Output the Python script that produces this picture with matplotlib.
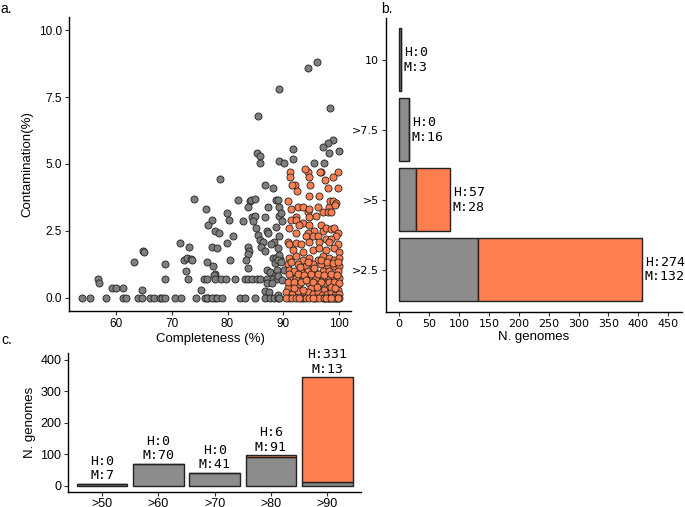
"""
Genome quality overview: contamination vs completeness scatter (a),
counts per contamination bin (b) and per completeness bin (c).
"""

import numpy as np
import matplotlib
matplotlib.use("Agg")
import matplotlib.pyplot as plt

plt.rcParams["font.family"] = ["Liberation Sans", "DejaVu Sans"]

GREY  = "#8c8c8c"
DOT   = "#7f7f7f"
CORAL = "#ff7f50"
EDGE  = "#222222"

# ──────────────────────────────────────────────────────────────────────────────
# Data
# ──────────────────────────────────────────────────────────────────────────────

# panel a: (completeness %, contamination %)
medium_points = [
    (94.4, 8.6), (96.0, 8.8), (89.3, 7.8), (98.4, 7.1), (85.5, 6.8),
    (98.9, 5.9), (98.0, 5.8), (97.1, 5.65), (91.8, 5.55), (91.8, 5.2),
    (85.3, 5.4), (85.9, 5.3), (85.8, 5.05), (89.2, 5.1), (90.1, 5.05),
    (95.5, 5.05), (97.4, 5.05), (98.3, 5.4), (100.0, 5.5), (78.7, 4.45),
    (73.9, 3.7), (76.2, 3.3), (77.2, 2.9), (76.5, 2.7), (77.7, 2.5),
    (71.4, 2.05), (73.0, 1.9), (77.3, 1.9), (64.8, 1.75), (64.9, 1.7),
    (63.1, 1.35), (68.8, 1.25), (72.1, 1.4), (72.8, 1.5), (73.5, 1.45),
    (73.7, 1.4), (76.3, 1.35), (77.4, 1.2), (72.6, 1.0), (77.7, 0.9),
    (56.8, 0.7), (56.9, 0.55), (68.8, 0.7), (72.9, 0.7), (75.7, 0.7),
    (59.2, 0.35), (60.0, 0.35), (61.3, 0.35), (64.6, 0.3), (75.2, 0.3),
    (53.8, 0.0), (55.2, 0.0), (58.1, 0.0), (61.3, 0.0), (61.8, 0.0),
    (63.9, 0.0), (64.7, 0.0), (66.1, 0.0), (66.7, 0.0), (67.8, 0.0),
    (68.2, 0.0), (68.8, 0.0), (70.5, 0.0), (71.7, 0.0), (74.4, 0.0),
    (76.0, 0.0), (76.5, 0.0), (77.7, 0.0),
    (86.7, 4.2), (88.1, 4.1), (81.9, 3.65), (84.0, 3.6), (84.3, 3.65),
    (85.0, 3.7), (88.7, 3.65), (83.7, 3.4), (87.3, 3.4), (79.9, 3.15),
    (80.2, 2.9), (82.8, 2.85), (84.4, 3.0), (85.0, 3.05), (84.6, 2.85),
    (86.7, 3.0), (88.8, 2.65), (89.2, 3.05), (85.2, 2.6), (87.1, 2.5),
    (87.3, 2.4), (78.4, 2.4), (80.9, 2.3), (85.4, 2.35), (85.8, 2.15),
    (86.3, 2.1), (88.3, 2.1), (87.9, 2.0), (79.9, 2.05), (78.1, 1.85),
    (83.7, 1.9), (83.8, 1.75), (83.7, 1.65), (86.0, 1.9), (86.8, 1.75),
    (88.1, 1.5), (88.8, 1.5), (88.5, 1.3), (89.4, 1.45), (80.5, 1.4),
    (83.4, 1.4), (83.7, 1.1), (87.1, 1.05), (87.6, 0.95), (88.9, 1.05),
    (88.6, 0.8), (77.5, 0.85),
    (76.3, 0.7), (77.8, 0.7), (78.9, 0.7), (79.8, 0.7), (81.4, 0.7),
    (83.1, 0.7), (83.7, 0.7), (84.4, 0.7), (85.3, 0.7), (85.9, 0.7),
    (87.1, 0.7), (88.1, 0.7), (88.9, 0.7),
    (87.1, 0.55), (88.0, 0.55), (86.8, 0.25), (87.4, 0.2),
    (76.3, 0.0), (77.2, 0.0), (78.1, 0.0), (79.0, 0.0), (82.3, 0.0),
    (83.2, 0.0), (85.0, 0.0), (86.8, 0.0), (87.6, 0.0), (88.3, 0.0),
    (89.1, 0.0),
    (89.0, 3.65), (89.2, 3.4), (89.6, 3.15), (89.8, 2.85), (89.2, 2.3),
    (89.0, 1.85), (89.2, 1.6), (89.0, 1.4), (89.6, 1.35), (90.2, 1.05),
    (89.0, 0.8), (89.8, 0.65), (89.0, 0.1), (89.2, 0.0),
    (93.5, 0.0), (95.5, 0.0), (97.5, 0.0), (98.5, 0.0), (99.5, 0.0),
]

high_points = [
    (91.2, 4.7), (92.2, 4.2), (94.4, 4.7), (94.7, 4.5), (94.8, 4.2),
    (96.8, 4.7), (97.5, 4.4), (99.9, 4.7), (98.1, 4.1), (99.9, 4.1),
    (94.7, 3.8), (96.5, 3.8), (92.5, 4.0), (91.6, 4.2), (91.2, 4.5),
    (93.9, 4.8), (96.6, 4.7), (98.9, 4.5),
    (90.8, 3.6), (91.4, 3.3), (92.6, 3.4), (93.5, 3.4), (94.4, 3.2),
    (94.7, 3.3), (96.2, 3.4), (97.1, 3.2), (98.3, 3.4), (98.4, 3.6),
    (98.9, 3.6), (99.5, 3.55), (99.3, 3.45), (98.0, 3.2), (98.6, 3.2),
    (95.9, 3.05), (94.7, 3.0), (92.3, 3.0),
    (91.4, 2.9), (91.1, 2.6), (92.3, 2.9), (93.5, 2.8), (92.9, 2.7),
    (94.7, 2.7), (95.6, 2.5), (96.8, 2.7), (97.2, 2.5), (97.7, 2.6),
    (98.6, 2.55), (99.2, 2.6), (99.8, 2.4), (99.5, 2.3), (94.4, 2.4),
    (94.1, 2.3), (95.3, 2.3), (96.2, 2.3), (97.7, 2.2), (98.6, 2.2),
    (92.3, 2.4),
    (90.8, 2.1), (91.1, 2.0), (92.3, 2.05), (93.2, 2.0), (94.7, 2.1),
    (96.5, 2.1), (98.3, 2.1), (99.8, 2.0), (91.7, 1.8), (93.5, 1.7),
    (95.3, 1.8), (96.5, 1.85), (97.7, 1.8), (99.2, 1.85), (100.0, 1.7),
    (91.1, 1.5), (92.3, 1.55), (93.5, 1.4), (94.7, 1.5), (96.2, 1.4),
    (97.1, 1.55), (98.3, 1.5), (99.2, 1.4), (100.0, 1.5), (90.8, 1.25),
    (92.6, 1.25), (94.1, 1.2), (95.3, 1.25), (96.8, 1.25), (98.0, 1.2),
    (99.2, 1.2), (100.0, 1.2),
    (91.1, 1.05), (92.0, 1.0), (93.2, 1.0), (94.4, 1.0), (95.6, 1.05),
    (97.1, 1.0), (98.3, 1.0), (99.8, 1.0), (91.4, 0.75), (92.3, 0.75),
    (93.5, 0.75), (94.7, 0.75), (95.9, 0.75), (97.1, 0.75), (98.0, 0.75),
    (99.2, 0.75), (100.0, 0.75),
    (91.1, 0.5), (92.9, 0.5), (94.7, 0.55), (96.5, 0.5), (97.7, 0.55),
    (99.5, 0.5), (90.8, 0.35), (95.0, 0.35), (97.4, 0.3), (99.8, 0.3),
    (90.5, 0.2), (91.6, 0.15), (92.6, 0.25), (93.8, 0.1), (94.4, 0.2),
    (95.3, 0.15), (96.2, 0.2), (96.9, 0.1), (97.9, 0.15), (98.6, 0.2),
    (99.4, 0.1), (100.0, 0.15),
    (91.0, 0.9), (92.6, 0.9), (93.8, 0.85), (95.0, 0.9), (96.2, 0.9),
    (97.4, 0.85), (98.6, 0.9), (99.6, 0.85),
    (90.9, 0.6), (92.0, 0.6), (93.2, 0.6), (94.1, 0.65), (95.3, 0.6),
    (96.8, 0.6), (98.3, 0.6), (99.2, 0.6), (100.0, 0.55),
    (91.5, 1.35), (93.0, 1.15), (94.4, 1.35), (95.6, 1.1), (96.8, 1.4),
    (97.9, 1.35), (99.0, 1.3), (99.8, 1.35),
    (92.0, 0.35), (93.5, 0.3), (96.0, 0.4), (98.6, 0.4), (99.4, 0.35),
    (91.1, 0.0), (93.2, 0.0), (94.1, 0.0), (95.9, 0.0), (97.1, 0.0),
    (98.0, 0.0), (98.9, 0.0), (99.5, 0.0), (100.0, 0.0), (96.5, 0.0),
    (97.4, 0.0), (98.3, 0.0), (99.2, 0.0), (99.8, 0.0), (90.6, 0.0),
    (91.6, 0.0), (92.3, 0.0), (92.9, 0.0), (94.7, 0.0), (95.3, 0.0),
    (97.7, 0.0), (98.6, 0.0),
]

# panel b: contamination bins (top to bottom)
contam_bins   = ["10", ">7.5", ">5", ">2.5"]
contam_medium = [3, 16, 28, 132]
contam_high   = [0, 0, 57, 274]

# panel c: completeness bins
compl_bins   = [">50", ">60", ">70", ">80", ">90"]
compl_medium = [7, 70, 41, 91, 13]
compl_high   = [0, 0, 0, 6, 331]


def style_axes(ax):
    for side in ("top", "right"):
        ax.spines[side].set_visible(False)
    for side in ("left", "bottom"):
        ax.spines[side].set_linewidth(1.0)
        ax.spines[side].set_color("black")
    ax.tick_params(length=3, width=0.8, color="#333333", pad=2)


fig = plt.figure(figsize=(6.85, 5.07), dpi=100)

# ──────────────────────────────────────────────────────────────────────────────
# a. scatter
# ──────────────────────────────────────────────────────────────────────────────
ax_a = fig.add_axes([0.1007, 0.3866, 0.4117, 0.5799])
med = np.array(medium_points)
high = np.array(high_points)
ax_a.scatter(med[:, 0], med[:, 1], s=26, c=DOT, edgecolors=EDGE,
             linewidths=0.6, zorder=2)
ax_a.scatter(high[:, 0], high[:, 1], s=26, c=CORAL, edgecolors=EDGE,
             linewidths=0.6, zorder=3)
ax_a.set_xlim(51.5, 102.2)
ax_a.set_ylim(-0.5, 10.5)
ax_a.set_xticks([60, 70, 80, 90, 100])
ax_a.set_yticks([0, 2.5, 5, 7.5, 10])
ax_a.set_yticklabels(["0.0", "2.5", "5.0", "7.5", "10.0"])
ax_a.set_xlabel("Completeness (%)", fontsize=9.5, labelpad=2)
ax_a.set_ylabel("Contamination(%)", fontsize=9.5, labelpad=4)
style_axes(ax_a)
ax_a.tick_params(labelsize=8.5)

# ──────────────────────────────────────────────────────────────────────────────
# b. contamination bins
# ──────────────────────────────────────────────────────────────────────────────
ax_b = fig.add_axes([0.5631, 0.3852, 0.4321, 0.5793])
ypos = np.arange(len(contam_bins))[::-1] + 1
ax_b.barh(ypos, contam_medium, height=0.9, color=GREY, edgecolor=EDGE,
          linewidth=1.0)
ax_b.barh(ypos, contam_high, left=contam_medium, height=0.9, color=CORAL,
          edgecolor=EDGE, linewidth=1.0)
for y, m, h in zip(ypos, contam_medium, contam_high):
    ax_b.text(m + h + 5, y, f"H:{h}\nM:{m}", ha="left", va="center",
              fontsize=9.5, family="DejaVu Sans Mono", linespacing=1.15)
ax_b.set_xlim(-22.5, 472.5)
ax_b.set_ylim(0.4, 4.6)
ax_b.set_xticks(np.arange(0, 451, 50))
ax_b.set_yticks(ypos)
ax_b.set_yticklabels(contam_bins)
ax_b.set_xlabel("N. genomes", fontsize=9.5, labelpad=2)
style_axes(ax_b)
for lab in ax_b.get_xticklabels() + ax_b.get_yticklabels():
    lab.set_family("DejaVu Sans")
    lab.set_fontsize(8)

# ──────────────────────────────────────────────────────────────────────────────
# c. completeness bins
# ──────────────────────────────────────────────────────────────────────────────
ax_c = fig.add_axes([0.0997, 0.029, 0.4273, 0.2742])
xpos = np.arange(len(compl_bins)) + 1
ax_c.bar(xpos, compl_medium, width=0.9, color=GREY, edgecolor=EDGE,
         linewidth=1.0)
ax_c.bar(xpos, compl_high, bottom=compl_medium, width=0.9, color=CORAL,
         edgecolor=EDGE, linewidth=1.0)
for x, m, h in zip(xpos, compl_medium, compl_high):
    ax_c.text(x, m + h + 5, f"H:{h}\nM:{m}", ha="center", va="bottom",
              fontsize=9.5, family="DejaVu Sans Mono", linespacing=1.15)
ax_c.set_xlim(0.4, 5.6)
ax_c.set_ylim(-20, 420)
ax_c.set_xticks(xpos)
ax_c.set_xticklabels(compl_bins)
ax_c.set_yticks([0, 100, 200, 300, 400])
ax_c.set_ylabel("N. genomes", fontsize=9.5, labelpad=3)
style_axes(ax_c)
ax_c.tick_params(labelsize=9)
ax_c.tick_params(axis="x", pad=1)

# panel letters
fig.text(0.0, 0.997, "a.", fontsize=10, va="top", ha="left")
fig.text(0.556, 0.997, "b.", fontsize=10, va="top", ha="left")
fig.text(0.002, 0.343, "c.", fontsize=10, va="top", ha="left")

fig.savefig("out.png", dpi=100)
